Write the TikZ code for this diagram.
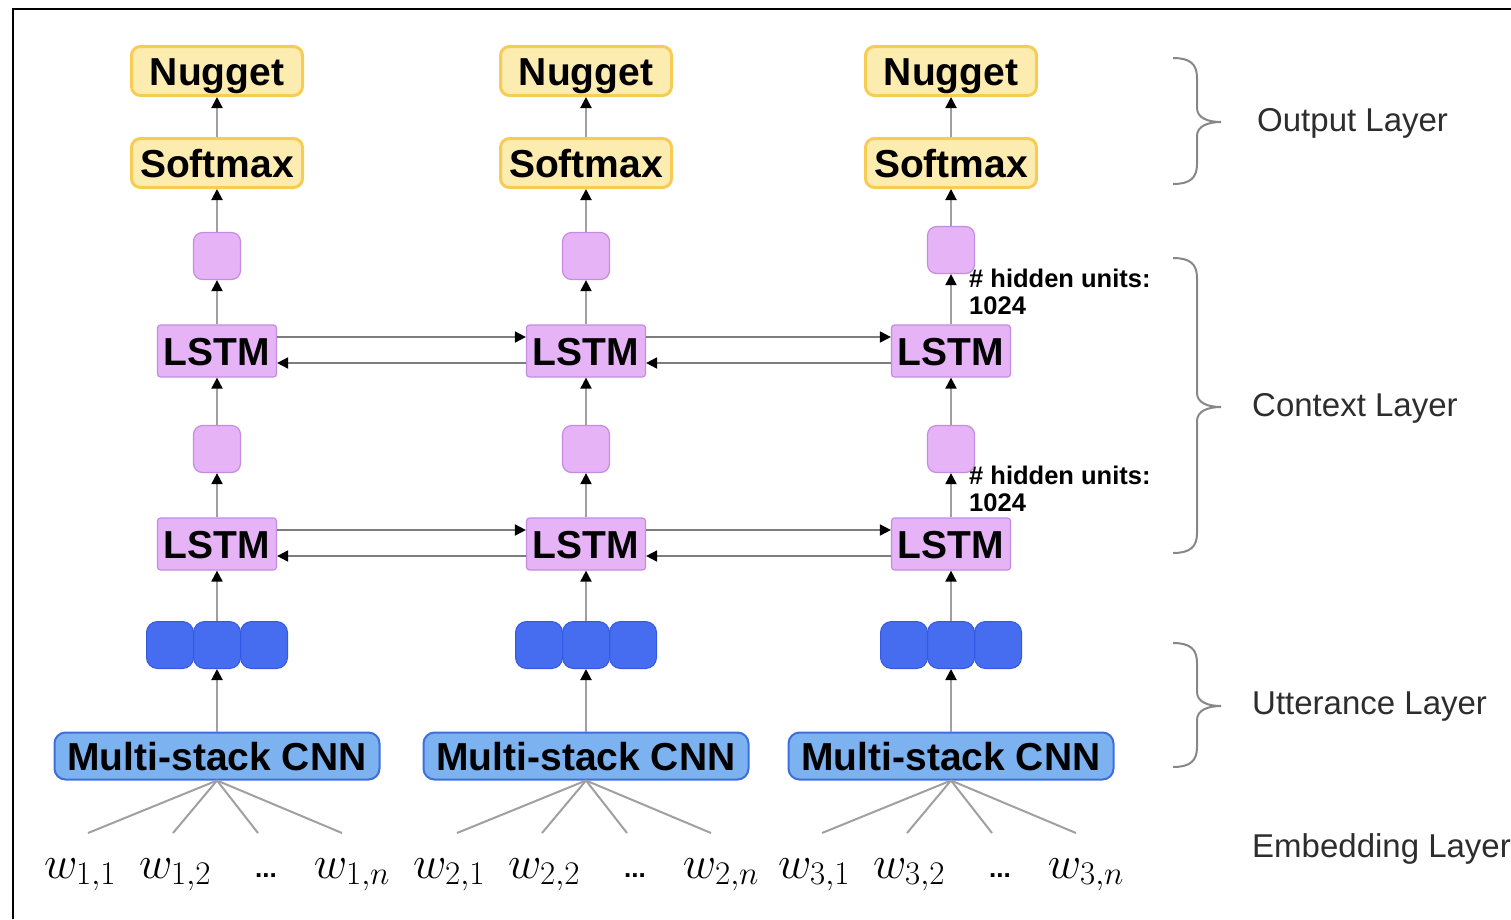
\documentclass[tikz,border=0pt]{standalone}
\usepackage{fix-cm}
\usepackage[no-math]{fontspec}
\setmainfont{Liberation Sans}
\usetikzlibrary{arrows.meta}
\DeclareMathSizes{46}{46}{33}{25}

\definecolor{yfill}{RGB}{253,236,176}
\definecolor{ybord}{RGB}{247,204,84}
\definecolor{pfill}{RGB}{230,180,246}
\definecolor{pbord}{RGB}{196,140,224}
\definecolor{bfill}{RGB}{70,108,240}
\definecolor{bbord}{RGB}{52,88,226}
\definecolor{cfill}{RGB}{124,178,240}
\definecolor{cbord}{RGB}{62,110,222}
\definecolor{vline}{RGB}{160,160,160}
\definecolor{hline}{RGB}{125,125,125}
\definecolor{bracegray}{RGB}{135,135,135}
\definecolor{labeltext}{RGB}{45,45,45}

\begin{document}
\begin{tikzpicture}[x=1pt,y=-1pt,
  boxtext/.style={inner sep=0pt, text height=28pt, text depth=0pt,
    font=\fontsize{39}{42}\selectfont\bfseries},
  outbox/.style={boxtext, draw=ybord, fill=yfill, line width=3pt, rounded corners=9pt,
    minimum width=171pt, minimum height=49pt},
  hidbox/.style={draw=pbord, fill=pfill, line width=1.2pt, rounded corners=9pt,
    minimum width=47pt, minimum height=47pt, inner sep=0pt},
  lstmbox/.style={boxtext, draw=pbord, fill=pfill, line width=1.2pt, rounded corners=3pt,
    minimum width=119pt, minimum height=52pt},
  vecbox/.style={draw=bbord, fill=bfill, line width=1pt, rounded corners=11pt,
    minimum width=47pt, minimum height=47pt, inner sep=0pt},
  cnnbox/.style={boxtext, draw=cbord, fill=cfill, line width=2pt, rounded corners=11pt,
    minimum width=325pt, minimum height=47pt},
  upconn/.style={draw=vline, line width=2pt,
    -{Triangle[length=11pt,width=11pt,color=black]}},
  sideconn/.style={draw=hline, line width=1.8pt,
    -{Triangle[length=11pt,width=11pt,color=black]}},
  fanline/.style={draw=vline, line width=2pt},
  wordlbl/.style={inner sep=0pt, anchor=base, font=\fontsize{46}{50}\selectfont},
  dotslbl/.style={inner sep=0pt, anchor=base, font=\fontsize{26}{28}\selectfont\bfseries},
  unitslbl/.style={inner sep=0pt, anchor=north west, align=left,
    font=\fontsize{25.5}{27}\selectfont\bfseries},
  layerlbl/.style={inner sep=0pt, anchor=west, text=labeltext,
    font=\fontsize{33}{36}\selectfont},
  layerbrace/.style={draw=bracegray, line width=2pt}
]
\useasboundingbox (0,0) rectangle (1511,919);

% frame
\draw[line width=2.6pt] (13,919) -- (13,9) -- (1511,9);

% three identical columns
\foreach \c/\x/\u in {1/217/256, 2/586/256, 3/951/250} {
  \node[outbox]  (nug\c)  at (\x,71)  {Nugget};
  \node[outbox]  (soft\c) at (\x,163) {Softmax};
  \node[hidbox]  (hb\c)   at (\x,\u)  {};
  \node[lstmbox] (lb\c)   at (\x,351) {LSTM};
  \node[hidbox]  (ha\c)   at (\x,449) {};
  \node[lstmbox] (la\c)   at (\x,544) {LSTM};
  \node[vecbox]  (va\c)   at (\x-47,645) {};
  \node[vecbox]  (vc\c)   at (\x+47,645) {};
  \node[vecbox]  (vb\c)   at (\x,645) {};
  \node[cnnbox]  (cnn\c)  at (\x,756) {Multi-stack CNN};

  \draw[upconn] (cnn\c.north) -- (vb\c.south);
  \draw[upconn] (vb\c.north) -- (la\c.south);
  \draw[upconn] (la\c.north) -- (ha\c.south);
  \draw[upconn] (ha\c.north) -- (lb\c.south);
  \draw[upconn] (lb\c.north) -- (hb\c.south);
  \draw[upconn] (hb\c.north) -- (soft\c.south);
  \draw[upconn] (soft\c.north) -- (nug\c.south);

  % word inputs fanning into the CNN
  \coordinate (e\c a) at (\x-129,833);
  \coordinate (e\c b) at (\x-44,833);
  \coordinate (e\c c) at (\x+41,833);
  \coordinate (e\c d) at (\x+125,833);
  \foreach \k in {a,b,c,d} {
    \draw[fanline] (cnn\c.south) -- (e\c\k);
  }
  \node[wordlbl] (w\c a) at (\x-137,878) {$w_{\c,1}$};
  \node[wordlbl] (w\c b) at (\x-42,878)  {$w_{\c,2}$};
  \node[dotslbl] (w\c c) at (\x+49,877)  {...};
  \node[wordlbl] (w\c d) at (\x+135,878) {$w_{\c,n}$};
}

% bidirectional links between neighbouring LSTMs
\foreach \r in {la,lb} {
  \draw[sideconn] ([yshift=14pt]\r1.east) -- ([yshift=14pt]\r2.west);
  \draw[sideconn] ([yshift=-12pt]\r2.west) -- ([yshift=-12pt]\r1.east);
  \draw[sideconn] ([yshift=14pt]\r2.east) -- ([yshift=14pt]\r3.west);
  \draw[sideconn] ([yshift=-12pt]\r3.west) -- ([yshift=-12pt]\r2.east);
}

% hidden-size notes
\node[unitslbl] (units1) at (969,269) {\# hidden units:\\1024};
\node[unitslbl] (units2) at (969,466) {\# hidden units:\\1024};

% layer braces
\foreach \t/\m/\b in {58/122/184, 258/407/553, 643/706/767} {
  \draw[layerbrace] (1173,\t) .. controls (1190,\t) and (1197,{\t+6}) .. (1197,{\t+20})
    -- (1197,{\m-14}) .. controls (1197,{\m-4}) and (1208,\m) .. (1221,\m)
    .. controls (1208,\m) and (1197,{\m+4}) .. (1197,{\m+14})
    -- (1197,{\b-20}) .. controls (1197,{\b-6}) and (1190,\b) .. (1173,\b);
}

% layer names
\node[layerlbl] (lout) at (1257,123) {Output Layer};
\node[layerlbl] (lctx) at (1252,408) {Context Layer};
\node[layerlbl] (lutt) at (1252,707) {Utterance Layer};
\node[layerlbl] (lemb) at (1252,849) {Embedding Layer};
\end{tikzpicture}
\end{document}
